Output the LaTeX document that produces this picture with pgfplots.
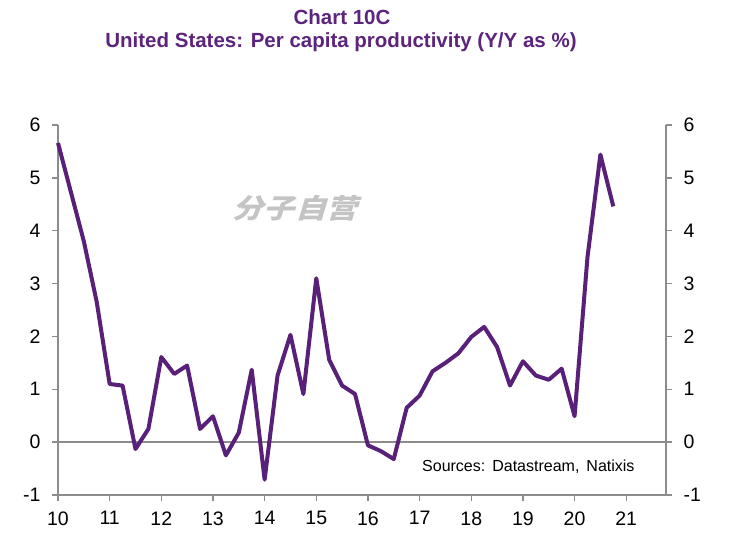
\documentclass[border=0pt]{standalone}
\usepackage{fontspec}
\setmainfont{Liberation Sans}
\newfontfamily\cjk[FakeSlant=0.3,FakeStretch=1.15]{Noto Sans CJK SC}
\usepackage{pgfplots}
\usepackage{pgfplotstable}
\pgfplotsset{compat=1.18}
\definecolor{linepurple}{RGB}{88,32,120}
\definecolor{titlepurple}{RGB}{92,36,124}
\definecolor{axisgray}{RGB}{140,140,140}
\definecolor{wmgray}{RGB}{196,196,196}
\pgfplotstableread{
x y
10.00 5.66
10.25 4.73
10.50 3.80
10.75 2.65
11.00 1.10
11.25 1.07
11.50 -0.13
11.75 0.25
12.00 1.61
12.25 1.29
12.50 1.45
12.75 0.25
13.00 0.49
13.25 -0.25
13.50 0.18
13.75 1.37
14.00 -0.71
14.25 1.26
14.50 2.03
14.75 0.91
15.00 3.10
15.25 1.56
15.50 1.07
15.75 0.91
16.00 -0.06
16.25 -0.17
16.50 -0.32
16.75 0.65
17.00 0.88
17.25 1.34
17.50 1.50
17.75 1.68
18.00 1.99
18.25 2.18
18.50 1.80
18.75 1.07
19.00 1.53
19.25 1.26
19.50 1.18
19.75 1.39
20.00 0.49
20.25 3.50
20.50 5.44
20.75 4.46
}\datatable
\begin{document}
\begin{tikzpicture}
\useasboundingbox (-58pt,-50pt) rectangle (680pt,495pt);
\begin{axis}[
 at={(0,0)}, anchor=south west,
 scale only axis, width=608pt, height=370pt,
 xmin=10, xmax=21.77, ymin=-1, ymax=6,
 axis x line*=bottom, axis y line*=left,
 axis line style={axisgray, line width=1.4pt},
 xtick={10,...,21}, ytick={-1,...,6},
 tick style={axisgray, line width=1.4pt},
 tick align=outside, major tick length=6pt,
 ticklabel style={font=\fontsize{19.5}{20}\selectfont, text=black},
 xticklabel style={yshift=-7pt},
 yticklabel style={xshift=-8pt},
 /pgf/number format/assume math mode=true,
 clip=false,
]
\addplot[axisgray, line width=1.4pt] coordinates {(10,0) (21.77,0)};
\addplot[linepurple, line width=4pt, line join=round] table {\datatable};
\end{axis}
\begin{axis}[
 at={(0,0)}, anchor=south west,
 scale only axis, width=608pt, height=370pt,
 xmin=10, xmax=21.77, ymin=-1, ymax=6,
 axis x line=none, axis y line*=right,
 axis line style={axisgray, line width=1.4pt},
 ytick={-1,...,6},
 tick style={axisgray, line width=1.4pt},
 tick align=outside, major tick length=6pt,
 ticklabel style={font=\fontsize{19.5}{20}\selectfont, text=black},
 yticklabel style={xshift=8pt},
 /pgf/number format/assume math mode=true,
]
\end{axis}
\node[font=\bfseries\fontsize{20.5}{22}\selectfont, text=titlepurple] at (284pt,478pt) {Chart 10C};
\node[font=\bfseries\fontsize{20.5}{22}\selectfont, text=titlepurple] at (283pt,453pt) {United States: Per capita productivity (Y/Y as \%)};
\node[font=\fontsize{16}{17}\selectfont, anchor=west, inner sep=0pt] at (364pt,28pt) {Sources:\hspace{7pt}Datastream,\hspace{7pt}Natixis};
\node[font=\cjk\bfseries\fontsize{27}{28}\selectfont, text=wmgray] at (237pt,287pt) {分子自营};
\end{tikzpicture}
\end{document}
